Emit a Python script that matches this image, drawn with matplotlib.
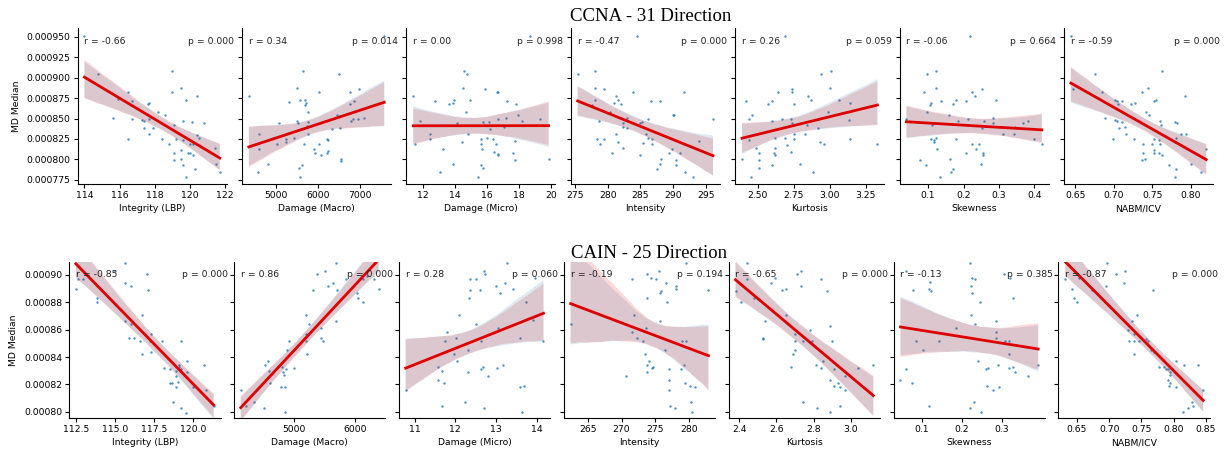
"""
    Gráfica de correlación MD Median vs métricas de imagen (CCNA y CAIN)
    Una fila por dirección, un panel por métrica, con ajuste lineal e IC
"""

import numpy as np
import seaborn as sns
from matplotlib import pyplot as plt
from matplotlib.ticker import FixedLocator

# Valores de MD Median en unidades de 1e-6
# ---------------- CCNA - 31 Direction ----------------
ccna_lbp_x = [114.0, 114.8, 116.5, 116.7, 115.9, 115.6, 116.7, 116.5, 117.6, 117.7, 118.2, 118.6,
              117.3, 117.4, 117.7, 117.4, 117.9, 117.7, 118.4, 118.8, 119.0, 119.0, 119.5, 119.8,
              120.4, 120.8, 120.1, 119.6, 119.1, 119.2, 120.4, 120.5, 120.0, 120.2, 119.5, 119.6,
              119.1, 119.9, 120.0, 120.2, 119.5, 119.1, 119.6, 120.3, 119.8, 121.4, 121.5, 121.7]
ccna_lbp_y = [951, 904, 882, 872, 874, 851, 849, 825, 868, 869, 858, 854,
              848, 847, 849, 839, 838, 831, 825, 819, 908, 882, 887, 873,
              878, 845, 846, 847, 842, 825, 830, 826, 819, 819, 812, 824,
              808, 808, 808, 805, 801, 799, 793, 788, 778, 814, 795, 785]

ccna_macro_x = [4344, 4584, 4584, 4560, 4800, 5064, 5024, 5224, 5240, 5312, 5488, 5488, 5528,
                5424, 5648, 5568, 5688, 5704, 5688, 5760, 5760, 5744, 5760, 5664, 5544, 5624,
                5576, 6024, 5904, 5920, 6024, 6064, 6208, 6240, 6208, 6248, 6344, 6464, 6504,
                6528, 6544, 6560, 6768, 6768, 6864, 6784, 6848, 6984, 6968, 7104, 7584]
ccna_macro_y = [878, 831, 813, 785, 795, 845, 819, 825, 821, 870, 887, 847, 845,
                826, 908, 873, 873, 869, 867, 858, 846, 841, 831, 819, 789, 793,
                779, 882, 813, 808, 819, 806, 825, 824, 808, 810, 837, 854, 904,
                839, 801, 798, 882, 868, 872, 847, 849, 886, 849, 851, 951]

ccna_micro_x = [11.42, 11.56, 11.83, 12.77, 12.46, 12.46, 13.25, 13.08, 13.66, 13.87, 13.95, 13.87,
                14.16, 14.43, 14.54, 14.60, 14.74, 14.70, 14.85, 14.95, 15.47, 15.62, 15.62, 15.68,
                15.62, 15.74, 15.78, 15.91, 16.03, 16.16, 16.20, 16.35, 16.45, 16.57, 16.62, 16.72,
                16.68, 16.68, 16.68, 17.16, 17.07, 17.24, 17.61, 17.76, 17.72, 17.82, 17.95, 18.17,
                19.32, 19.84, 18.69]
ccna_micro_y = [878, 819, 847, 871, 831, 825, 813, 785, 868, 869, 873, 795,
                845, 821, 887, 908, 904, 858, 831, 873, 779, 825, 819, 813,
                793, 789, 846, 886, 826, 846, 837, 825, 809, 819, 882, 882,
                849, 807, 806, 851, 840, 872, 808, 799, 823, 868, 854, 847,
                849, 801, 951]

ccna_int_x = [275.4, 278.0, 278.1, 279.4, 278.0, 277.6, 278.6, 278.4, 278.8, 279.4, 280.6, 280.4,
              281.2, 281.6, 282.1, 281.0, 281.3, 281.6, 282.3, 282.4, 282.9, 282.9, 282.3, 283.9,
              284.5, 285.0, 285.3, 285.0, 285.4, 285.8, 286.2, 286.2, 286.6, 286.7, 286.7, 288.0,
              287.5, 288.0, 288.2, 289.4, 290.0, 290.2, 289.9, 290.4, 290.4, 291.0, 291.7, 291.8,
              293.1, 293.9, 296.1]
ccna_int_y = [904, 908, 887, 886, 873, 867, 847, 825, 819, 825, 808, 858,
              878, 873, 868, 869, 831, 821, 845, 840, 851, 838, 814, 882,
              951, 845, 846, 806, 820, 831, 849, 826, 871, 825, 819, 872,
              788, 795, 801, 808, 854, 854, 813, 799, 793, 808, 882, 785,
              779, 823, 849]

ccna_kurt_x = [2.69, 2.42, 2.46, 2.44, 2.44, 2.39, 2.45, 2.49, 2.51, 2.51, 2.51, 2.57, 2.60,
               2.64, 2.60, 2.62, 2.62, 2.61, 2.62, 2.60, 2.67, 2.69, 2.70, 2.73, 2.74, 2.74,
               2.75, 2.73, 2.74, 2.75, 2.75, 2.79, 2.83, 2.84, 2.85, 2.87, 2.88, 2.92, 2.94,
               2.93, 2.96, 2.99, 3.00, 3.01, 3.06, 3.14, 3.13, 3.14, 3.33]
ccna_kurt_y = [951, 871, 854, 849, 824, 801, 779, 814, 808, 799, 789, 868, 872,
               882, 847, 826, 814, 808, 806, 793, 849, 826, 818, 809, 882, 886,
               868, 850, 845, 831, 825, 795, 831, 842, 878, 873, 785, 839, 904,
               821, 819, 858, 887, 908, 873, 869, 848, 825, 819]

ccna_skew_x = [0.039, 0.077, 0.088, 0.098, 0.093, 0.098, 0.105, 0.109, 0.107, 0.112, 0.116, 0.116,
               0.121, 0.122, 0.123, 0.125, 0.137, 0.133, 0.159, 0.161, 0.165, 0.170, 0.169, 0.180,
               0.180, 0.185, 0.208, 0.208, 0.212, 0.218, 0.225, 0.225, 0.232, 0.235, 0.244, 0.248,
               0.251, 0.251, 0.256, 0.256, 0.258, 0.282, 0.282, 0.293, 0.312, 0.343, 0.345, 0.367,
               0.381, 0.400, 0.421]
ccna_skew_y = [849, 799, 882, 904, 793, 858, 867, 869, 825, 842, 824, 821,
               908, 887, 826, 813, 871, 779, 854, 801, 785, 788, 868, 873,
               825, 847, 872, 808, 849, 951, 819, 882, 878, 813, 819, 795,
               886, 838, 808, 806, 847, 851, 845, 873, 831, 831, 840, 845,
               847, 825, 819]

ccna_nabm_x = [0.644, 0.647, 0.675, 0.685, 0.688, 0.702, 0.704, 0.705, 0.710, 0.702, 0.704, 0.710,
               0.707, 0.714, 0.699, 0.716, 0.722, 0.728, 0.726, 0.737, 0.744, 0.742, 0.745, 0.738,
               0.738, 0.737, 0.741, 0.752, 0.755, 0.752, 0.750, 0.752, 0.752, 0.760, 0.761, 0.762,
               0.759, 0.760, 0.759, 0.763, 0.780, 0.782, 0.780, 0.781, 0.793, 0.787, 0.772, 0.781,
               0.780, 0.794, 0.800, 0.813, 0.820]
ccna_nabm_y = [951, 886, 904, 882, 851, 873, 872, 868, 872, 848, 847, 846,
               838, 840, 825, 831, 868, 869, 825, 882, 887, 858, 854, 819,
               808, 799, 801, 871, 873, 825, 819, 812, 808, 847, 842, 908,
               824, 819, 808, 806, 846, 845, 821, 826, 878, 831, 793, 788,
               779, 831, 795, 785, 813]

# ---------------- CAIN - 25 Direction ----------------
cain_lbp_x = [112.46, 112.6, 112.9, 115.0, 115.6, 115.6, 116.0, 113.8, 113.8, 117.1, 117.0,
              116.7, 115.6, 116.0, 115.9, 116.2, 116.6, 116.7, 117.3, 117.2, 117.3, 118.0,
              118.1, 118.5, 118.5, 118.6, 118.7, 118.9, 118.9, 119.0, 118.9, 119.1, 119.1,
              119.2, 119.2, 119.2, 119.5, 119.6, 119.6, 120.0, 120.7, 120.8, 121.3]
cain_lbp_y = [890, 897, 897, 903, 909, 894, 892, 880, 883, 889, 901,
              871, 866, 864, 854, 854, 852, 842, 857, 852, 844, 852,
              832, 831, 821, 821, 807, 830, 826, 822, 818, 834, 833,
              831, 852, 803, 799, 837, 829, 818, 834, 816, 804]

cain_macro_x = [4129, 4213, 4354, 4511, 4534, 4579, 4590, 4607, 4787, 4803, 4815, 4843, 4860, 4871,
                4848, 4888, 4927, 5000, 5208, 5208, 5208, 5225, 5253, 5309, 5376, 5449, 5449, 5477,
                5506, 5562, 5646, 5691, 5702, 5691, 5860, 6051, 6040, 6135, 6140, 6320, 6393, 6208]
cain_macro_y = [816, 804, 807, 803, 834, 837, 830, 821, 818, 833, 829, 827, 818, 831,
                800, 845, 852, 832, 871, 857, 852, 842, 864, 889, 901, 861, 854, 852,
                903, 892, 894, 909, 889, 866, 897, 883, 887, 880, 897, 897, 890, 899]

cain_micro_x = [10.78, 11.58, 11.58, 11.67, 11.67, 11.73, 11.75, 11.79, 11.96, 12.02, 12.03, 12.10,
                12.25, 12.31, 12.31, 12.33, 12.37, 12.37, 12.50, 12.50, 12.60, 12.63, 12.63, 12.68,
                12.70, 12.73, 12.71, 12.81, 13.00, 13.02, 13.06, 13.10, 13.23, 13.18, 13.28, 13.41,
                13.58, 13.58, 13.68, 13.65, 13.73, 13.92, 13.95, 14.17]
cain_micro_y = [816, 833, 823, 830, 804, 821, 852, 858, 842, 854, 837, 871,
                807, 845, 829, 883, 889, 897, 897, 864, 889, 852, 831, 833,
                903, 901, 803, 826, 892, 832, 861, 887, 894, 834, 909, 890,
                854, 818, 819, 800, 880, 867, 898, 852]

cain_int_x = [262.45, 270.6, 271.6, 271.85, 271.5, 272.35, 273.1, 273.5, 273.6, 273.7, 273.7,
              273.7, 273.7, 274.1, 274.35, 274.5, 274.6, 275.1, 275.5, 275.7, 275.85, 275.75,
              276.35, 276.5, 276.75, 277.0, 277.0, 277.0, 277.2, 277.85, 278.0, 278.1, 278.85,
              279.0, 279.5, 279.2, 279.35, 279.5, 280.1, 280.2, 280.45, 280.85, 282.85]
cain_int_y = [864, 826, 897, 871, 858, 854, 852, 842, 861, 901, 883,
              834, 829, 837, 898, 832, 833, 897, 903, 887, 888, 866,
              845, 894, 880, 831, 823, 816, 804, 803, 892, 890, 831,
              852, 852, 834, 821, 909, 819, 807, 800, 818, 889]

cain_kurt_x = [2.44, 2.38, 2.41, 2.44, 2.48, 2.54, 2.53, 2.53, 2.57, 2.59, 2.63, 2.65, 2.65, 2.71,
               2.73, 2.73, 2.70, 2.70, 2.70, 2.69, 2.68, 2.74, 2.78, 2.79, 2.74, 2.82, 2.84, 2.87,
               2.89, 2.90, 2.85, 2.81, 2.84, 2.91, 2.89, 2.91, 2.93, 2.94, 2.97, 2.97, 3.04, 3.12,
               2.94, 2.89]
cain_kurt_y = [909, 888, 880, 897, 883, 866, 854, 853, 894, 898, 889, 890, 871, 901,
               903, 892, 857, 852, 845, 842, 833, 852, 860, 852, 807, 803, 897, 888,
               863, 852, 837, 834, 832, 831, 823, 819, 821, 818, 816, 826, 832, 834,
               804, 800]

cain_skew_x = [0.047, 0.062, 0.077, 0.079, 0.062, 0.085, 0.104, 0.119, 0.119, 0.120, 0.124, 0.143,
               0.185, 0.221, 0.223, 0.227, 0.234, 0.225, 0.223, 0.234, 0.247, 0.242, 0.221, 0.232,
               0.249, 0.262, 0.266, 0.263, 0.279, 0.293, 0.286, 0.286, 0.287, 0.290, 0.308, 0.320,
               0.319, 0.320, 0.330, 0.334, 0.306, 0.321, 0.328, 0.366, 0.392]
cain_skew_y = [823, 831, 821, 889, 903, 852, 845, 804, 890, 895, 888, 852,
               861, 909, 892, 898, 897, 887, 871, 864, 880, 837, 803, 807,
               800, 831, 832, 819, 816, 818, 866, 858, 854, 834, 852, 852,
               842, 832, 833, 829, 901, 898, 883, 826, 834]

cain_nabm_x = [0.632, 0.642, 0.646, 0.650, 0.653, 0.673, 0.695, 0.697, 0.710, 0.723, 0.725,
               0.768, 0.744, 0.736, 0.729, 0.731, 0.738, 0.739, 0.739, 0.747, 0.758, 0.760,
               0.765, 0.769, 0.777, 0.785, 0.789, 0.792, 0.794, 0.798, 0.804, 0.795, 0.791,
               0.794, 0.793, 0.804, 0.817, 0.838, 0.846, 0.828, 0.830, 0.822, 0.815]
cain_nabm_y = [897, 890, 883, 880, 898, 889, 892, 909, 901, 894, 903,
               889, 871, 866, 860, 852, 857, 852, 842, 852, 853, 852,
               845, 844, 833, 833, 831, 831, 829, 831, 837, 827, 823,
               821, 819, 818, 834, 834, 816, 807, 804, 803, 800]

features = ["Integrity (LBP)", "Damage (Macro)", "Damage (Micro)", "Intensity",
            "Kurtosis", "Skewness", "NABM/ICV"]

ccna_r = ["-0.66", "0.34", "0.00", "-0.47", "0.26", "-0.06", "-0.59"]
ccna_p = ["0.000", "0.014", "0.998", "0.000", "0.059", "0.664", "0.000"]
cain_r = ["-0.85", "0.86", "0.28", "-0.19", "-0.65", "-0.13", "-0.87"]
cain_p = ["0.000", "0.000", "0.060", "0.194", "0.000", "0.385", "0.000"]

ccna_xticks = [[114, 116, 118, 120, 122], [5000, 6000, 7000], [12, 14, 16, 18, 20],
               [275, 280, 285, 290, 295], [2.50, 2.75, 3.00, 3.25], [0.1, 0.2, 0.3, 0.4],
               [0.65, 0.70, 0.75, 0.80]]
cain_xticks = [[112.5, 115.0, 117.5, 120.0], [4000, 5000, 6000], [11, 12, 13, 14],
               [265, 270, 275, 280], [2.4, 2.6, 2.8, 3.0], [0.1, 0.2, 0.3],
               [0.65, 0.70, 0.75, 0.80, 0.85]]
ccna_yticks = [0.000775, 0.000800, 0.000825, 0.000850, 0.000875, 0.000900, 0.000925, 0.000950]
cain_yticks = [0.00080, 0.00082, 0.00084, 0.00086, 0.00088, 0.00090]

FS = 6.7


def draw_panel(ax, x, y, r_txt, p_txt, xticks, label):
    x = np.asarray(x, dtype=float)
    y = np.asarray(y, dtype=float) * 1e-6
    # Nube de puntos + banda azul por defecto, luego la recta roja encima
    sns.regplot(x=x, y=y, ax=ax, color="C0", seed=0,
                scatter_kws={"s": 3, "linewidths": 0}, line_kws={"lw": 0})
    sns.regplot(x=x, y=y, ax=ax, scatter=False, color="#dd0000", seed=1,
                line_kws={"lw": 2})
    ax.xaxis.set_major_locator(FixedLocator(xticks))
    ax.set_xlabel(label, fontsize=FS, labelpad=3)
    ax.set_ylabel("")
    ax.text(0.045, 0.917, f"r = {r_txt}", transform=ax.transAxes,
            fontsize=FS, va="center", ha="left", color="#222222")
    ax.text(1.05, 0.917, f"p = {p_txt}", transform=ax.transAxes,
            fontsize=FS, va="center", ha="right", color="#222222")
    ax.tick_params(labelsize=FS, length=3, width=0.8, pad=2)
    sns.despine(ax=ax)


def draw_row(fig, gs, xs, ys, rs, ps, xticks, yticks, ylim):
    axes = []
    for i in range(7):
        ax = fig.add_subplot(gs[0, i], sharey=axes[0] if axes else None)
        draw_panel(ax, xs[i], ys[i], rs[i], ps[i], xticks[i], features[i])
        if i > 0:
            ax.tick_params(labelleft=False)
        axes.append(ax)
    axes[0].set_ylim(*ylim)
    axes[0].yaxis.set_major_locator(FixedLocator(yticks))
    axes[0].set_ylabel("MD Median", fontsize=FS)
    return axes


def main():
    fig = plt.figure(figsize=(12.25, 4.51), dpi=100)
    gs_top = fig.add_gridspec(1, 7, left=0.0634, right=0.9902, top=0.9373, bottom=0.592, wspace=0.104)
    gs_bot = fig.add_gridspec(1, 7, left=0.0563, right=0.9878, top=0.4191, bottom=0.0725, wspace=0.088)

    draw_row(fig, gs_top,
             [ccna_lbp_x, ccna_macro_x, ccna_micro_x, ccna_int_x, ccna_kurt_x, ccna_skew_x, ccna_nabm_x],
             [ccna_lbp_y, ccna_macro_y, ccna_micro_y, ccna_int_y, ccna_kurt_y, ccna_skew_y, ccna_nabm_y],
             ccna_r, ccna_p, ccna_xticks, ccna_yticks, (0.000770, 0.0009603))
    draw_row(fig, gs_bot,
             [cain_lbp_x, cain_macro_x, cain_micro_x, cain_int_x, cain_kurt_x, cain_skew_x, cain_nabm_x],
             [cain_lbp_y, cain_macro_y, cain_micro_y, cain_int_y, cain_kurt_y, cain_skew_y, cain_nabm_y],
             cain_r, cain_p, cain_xticks, cain_yticks, (0.0007952, 0.0009095))

    fig.text(651 / 1225, 0.9528, "CCNA - 31 Direction", ha="center", va="baseline",
             fontsize=13.5, family="Liberation Serif")
    fig.text(649 / 1225, 0.4273, "CAIN - 25 Direction", ha="center", va="baseline",
             fontsize=13.5, family="Liberation Serif")

    fig.savefig("out.png", dpi=100)


if __name__ == "__main__":
    main()
